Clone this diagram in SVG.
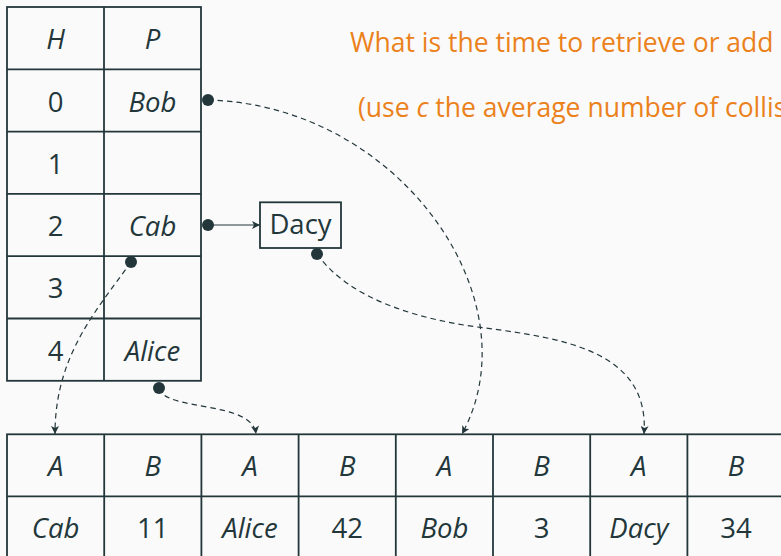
<svg xmlns="http://www.w3.org/2000/svg" width="781" height="556" viewBox="0 0 781 556">
<style>
.bg{fill:#fafafa}
.grid{fill:none;stroke:#23373b;stroke-width:1.8}
.t{font-family:"Open Sans","Liberation Sans",sans-serif;font-size:27.5px;font-weight:370;fill:#23373b;text-anchor:middle}
.i{font-style:italic}
.q{font-family:"Open Sans","Liberation Sans",sans-serif;font-size:26.5px;font-weight:400;fill:#eb811b}
.dash{fill:none;stroke:#23373b;stroke-width:1.2;stroke-dasharray:5.5 4}
.solid{fill:none;stroke:#23373b;stroke-width:1.2}
.dot{fill:#23373b}
</style>
<defs>
<marker id="arr" viewBox="0 0 10 10" refX="10" refY="5" markerWidth="9" markerHeight="8" orient="auto" markerUnits="userSpaceOnUse">
<path d="M0,0 L10,5 L0,10 L2.5,5 z" fill="#23373b"/>
</marker>
</defs>
<rect class="bg" x="0" y="0" width="781" height="556"/>

<g id="question">
<text class="q" x="350" y="52">What is the time to retrieve or add</text>
<text class="q" x="358" y="117">(use <tspan font-style="italic">c</tspan> the average number of collis</text>
</g>

<g id="hash-table">
<rect class="grid" x="7" y="7" width="194" height="373.8"/>
<line class="grid" x1="104" y1="7" x2="104" y2="380.8"/>
<line class="grid" x1="7" y1="69.3" x2="201" y2="69.3"/>
<line class="grid" x1="7" y1="131.6" x2="201" y2="131.6"/>
<line class="grid" x1="7" y1="193.9" x2="201" y2="193.9"/>
<line class="grid" x1="7" y1="256.2" x2="201" y2="256.2"/>
<line class="grid" x1="7" y1="318.5" x2="201" y2="318.5"/>
<text class="t i" x="55.5" y="49">H</text>
<text class="t i" x="152.5" y="49">P</text>
<text class="t" x="55.5" y="111.5">0</text>
<text class="t i" x="152.5" y="111.5">Bob</text>
<text class="t" x="55.5" y="173.8">1</text>
<text class="t" x="55.5" y="236">2</text>
<text class="t i" x="152.5" y="236">Cab</text>
<text class="t" x="55.5" y="298.4">3</text>
<text class="t" x="55.5" y="360.7">4</text>
<text class="t i" x="152.5" y="360.7">Alice</text>
</g>

<g id="dacy">
<rect class="grid" x="260" y="202.3" width="81" height="45.7" stroke-width="1.5"/>
<text class="t" x="300.5" y="233.5">Dacy</text>
</g>

<g id="array">
<rect class="grid" x="7" y="434.3" width="777.6" height="124"/>
<line class="grid" x1="7" y1="496.3" x2="784.6" y2="496.3"/>
<line class="grid" x1="104.2" y1="434.3" x2="104.2" y2="558"/>
<line class="grid" x1="201.4" y1="434.3" x2="201.4" y2="558"/>
<line class="grid" x1="298.6" y1="434.3" x2="298.6" y2="558"/>
<line class="grid" x1="395.8" y1="434.3" x2="395.8" y2="558"/>
<line class="grid" x1="493" y1="434.3" x2="493" y2="558"/>
<line class="grid" x1="590.2" y1="434.3" x2="590.2" y2="558"/>
<line class="grid" x1="687.4" y1="434.3" x2="687.4" y2="558"/>
<text class="t i" x="55.6" y="476">A</text>
<text class="t i" x="152.8" y="476">B</text>
<text class="t i" x="250" y="476">A</text>
<text class="t i" x="347.2" y="476">B</text>
<text class="t i" x="444.4" y="476">A</text>
<text class="t i" x="541.6" y="476">B</text>
<text class="t i" x="638.8" y="476">A</text>
<text class="t i" x="736" y="476">B</text>
<text class="t i" x="55.6" y="538">Cab</text>
<text class="t" x="152.8" y="538">11</text>
<text class="t i" x="250" y="538">Alice</text>
<text class="t" x="347.2" y="538">42</text>
<text class="t i" x="444.4" y="538">Bob</text>
<text class="t" x="541.6" y="538">3</text>
<text class="t i" x="638.8" y="538">Dacy</text>
<text class="t" x="736" y="538">34</text>
</g>

<g id="connectors">
<path class="solid" d="M208,225 L260,225" marker-end="url(#arr)"/>
<path class="dash" d="M208,100 C400,105 535,300 462,434" marker-end="url(#arr)"/>
<path class="dash" d="M131,262 C97,310 55,355 55,434" marker-end="url(#arr)"/>
<path class="dash" d="M159,388 C165,412 252,400 256,434" marker-end="url(#arr)"/>
<path class="dash" d="M317,254 C350,300 420,320 485,328 C560,338 650,350 644,434" marker-end="url(#arr)"/>
<circle class="dot" cx="208" cy="100" r="6"/>
<circle class="dot" cx="208" cy="225" r="6"/>
<circle class="dot" cx="131" cy="262" r="6"/>
<circle class="dot" cx="159" cy="388" r="6"/>
<circle class="dot" cx="317" cy="254" r="6"/>
</g>
</svg>
